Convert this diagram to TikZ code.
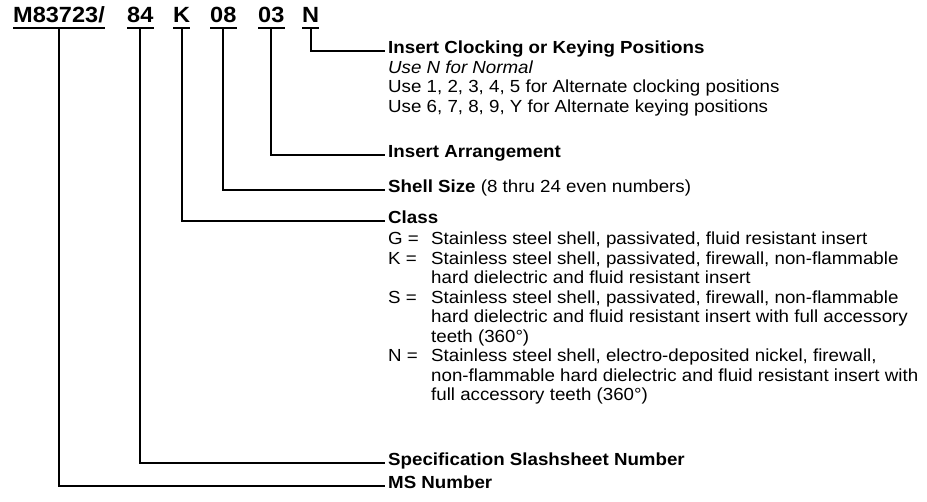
\documentclass[tikz,border=0pt]{standalone}
\usepackage{fontspec}
\setmainfont{Liberation Sans}[FakeStretch=1.07]
\usetikzlibrary{positioning}

\begin{document}
\begin{tikzpicture}[
  x=1pt, y=-1pt,
  code/.style={font=\fontsize{22}{24}\selectfont\bfseries, inner sep=0pt, anchor=base west},
  lbl/.style={font=\fontsize{17.5}{19.5}\selectfont\bfseries, inner xsep=3pt, inner ysep=0pt, anchor=base west},
  body/.style={font=\fontsize{17.5}{19.5}\selectfont, inner xsep=3pt, inner ysep=0pt, anchor=base west},
  conn/.style={line width=1.9pt}
]
\useasboundingbox (0,0) rectangle (927,502);
% part number
\node[code] (cM) at (13,23) {M83723/};
\node[code] (c84) at (127,23) {84};
\node[code] (cK) at (173,23) {K};
\node[code] (c08) at (210,23) {08};
\node[code] (c03) at (258,23) {03};
\node[code] (cN) at (302,23) {N};
\foreach \c in {cM,c84,cK,c08,c03,cN}
  \draw[conn] ([yshift=-5pt]\c.base west) -- ([yshift=-5pt]\c.base east);

% labels
\node[lbl] (ins) at (385,54) {Insert Clocking or Keying Positions};
\node[body] (insb) at (385,73.5) {\begin{tabular}[t]{@{}l@{}}
  \itshape Use N for Normal\\
  Use 1, 2, 3, 4, 5 for Alternate clocking positions\\
  Use 6, 7, 8, 9, Y for Alternate keying positions
\end{tabular}};
\node[lbl] (arr) at (385,158) {Insert Arrangement};
\node[lbl] (shl) at (385,193) {Shell Size \mdseries(8 thru 24 even numbers)};
\node[lbl] (cls) at (385,224) {Class};
\node[body] (clsb) at (385,245) {\begin{tabular}[t]{@{}p{43pt}@{}l@{}}
  G = & Stainless steel shell, passivated, fluid resistant insert\\
  K = & Stainless steel shell, passivated, firewall, non-flammable\\
      & hard dielectric and fluid resistant insert\\
  S = & Stainless steel shell, passivated, firewall, non-flammable\\
      & hard dielectric and fluid resistant insert with full accessory\\
      & teeth (360°)\\
  N = & Stainless steel shell, electro-deposited nickel, firewall,\\
      & non-flammable hard dielectric and fluid resistant insert with\\
      & full accessory teeth (360°)
\end{tabular}};
\node[lbl] (spec) at (385,466) {Specification Slashsheet Number};
\node[lbl] (msn) at (385,489) {MS Number};

% leaders
\draw[conn] ([yshift=-5pt]cN.base) |- ([yshift=3pt]ins.base west);
\draw[conn] ([yshift=-5pt]c03.base) |- ([yshift=3pt]arr.base west);
\draw[conn] ([yshift=-5pt]c08.base) |- ([yshift=3pt]shl.base west);
\draw[conn] ([yshift=-5pt]cK.base) |- ([yshift=3pt]cls.base west);
\draw[conn] ([yshift=-5pt]c84.base) |- ([yshift=3pt]spec.base west);
\draw[conn] ([yshift=-5pt]cM.base) |- ([yshift=3pt]msn.base west);
\end{tikzpicture}
\end{document}
